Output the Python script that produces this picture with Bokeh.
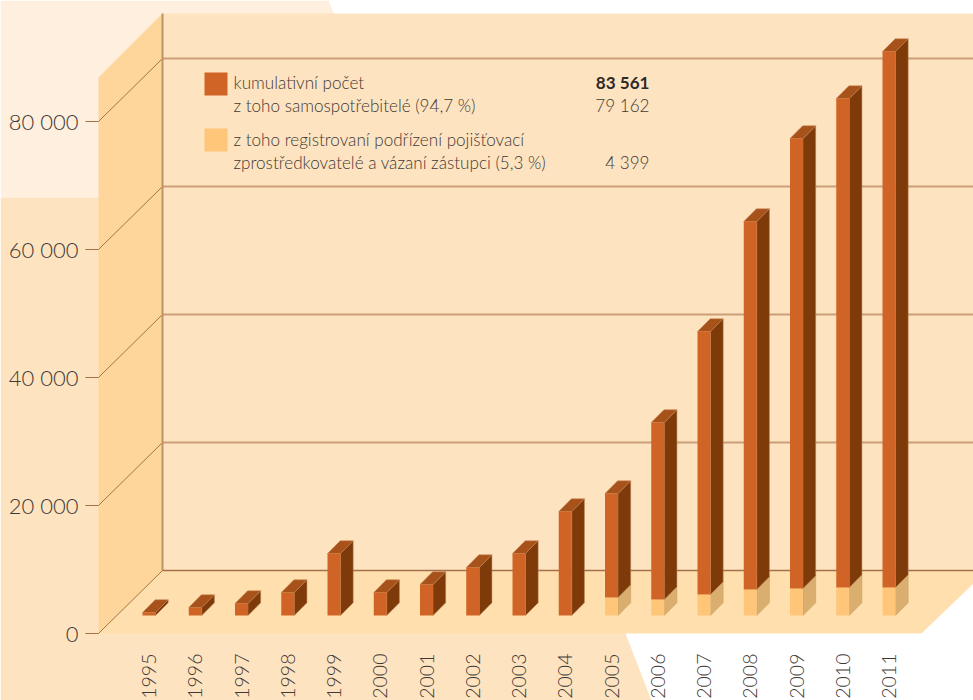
from math import pi
from bokeh.plotting import figure
from bokeh.models import LinearAxis, FixedTicker, Range1d
from bokeh.core.properties import value
from bokeh.embed import file_html
from bokeh.resources import INLINE

# ---- data (units on the left axis scale) ----
years = list(range(1995, 2012))
totals = [470, 1250, 1875, 3590, 9690, 3590, 4840, 7500, 9690, 16250, 19060,
          30160, 44375, 61560, 74530, 80780, 88125]
intermediaries = [0, 0, 0, 0, 0, 0, 0, 0, 0, 0, 2810, 2500, 3280, 4060, 4220, 4375, 4375]
y_ticks = [0, 20000, 40000, 60000, 80000]
y_labels = ["0", "20 000", "40 000", "60 000", "80 000"]
legend_lines = ["kumulativní počet", "z toho samospotřebitelé (94,7 %)",
                "z toho registrovaní podřízení pojišťovací",
                "zprostředkovatelé a vázaní zástupci (5,3 %)"]
legend_values = ["83 561", "79 162", "4 399"]

FONT = "Lato Light"
TEXT = "#3f3a36"
W, H = 973, 700
PX_PER_YEAR, PX_PER_UNIT = 46.25, 0.0064

# page pixel -> data helpers (used only for the decorated scenery)
def X(px): return 1995 + (px - 148.5) / PX_PER_YEAR
def Y(py): return (633 - py) / PX_PER_UNIT
DX = 1 / PX_PER_YEAR
DY = 1 / PX_PER_UNIT

p = figure(width=W, height=H, output_backend="svg", toolbar_location=None,
           x_range=Range1d(X(0), X(973)), y_range=Range1d(Y(700), Y(0)),
           x_axis_type=None, y_axis_type=None, min_border=0,
           outline_line_color=None, background_fill_color="white", border_fill_color="white")

def poly(pts, color):
    p.patch([X(a) for a, b in pts], [Y(b) for a, b in pts], fill_color=color, line_color=None)

def seg(x0, y0, x1, y1, color, w):
    p.line([X(x0), X(x1)], [Y(y0), Y(y1)], line_color=color, line_width=w)

# scenery
poly([(0, 0), (328, 0), (410, 197), (0, 197)], "#FEEFDF")
poly([(0, 197), (410, 197), (625, 633), (651, 700), (0, 700)], "#FEE3C0")
poly([(162, 13), (973, 13), (973, 570), (162, 570)], "#FEE3C0")
poly([(98, 77), (162, 13), (162, 570), (98, 633)], "#FED69C")
poly([(98, 633), (162, 570), (973, 570), (973, 583), (921, 633)], "#FFDFAE")

for t in y_ticks[1:]:
    py = 633 - t * PX_PER_UNIT
    seg(162, py - 63, 973, py - 63, "#C9A077", 2)
    seg(98, py, 162, py - 63, "#A37345", 1)
seg(162, 13, 162, 570, "#BC9468", 2)
seg(162, 570, 973, 570, "#A5714A", 1.5)
seg(98, 633, 162, 570, "#A37345", 1)

# bars (pseudo-3D): 18 px above the axis zero at the front edge
base = 18 * DY
bw, d, dv = 13 * DX, 12.7 * DX, 12.7 * DY
for yr, tot, low in zip(years, totals, intermediaries):
    x0 = yr - bw / 2
    x1 = x0 + bw
    top = base + tot
    mid = base + low
    if low > 0:
        p.patch([x1, x1 + d, x1 + d, x1], [base, base + dv, mid + dv, mid],
                fill_color="#DAAE6E", line_color="#C99E62", line_width=0.5)
        p.quad(left=x0, right=x1, bottom=base, top=mid, fill_color="#FFC67A", line_color=None)
    p.patch([x1, x1 + d, x1 + d, x1], [mid, mid + dv, top + dv, top],
            fill_color="#7F3A0A", line_color="#B98A5E", line_width=0.5)
    p.patch([x0, x0 + d, x1 + d, x1], [top, top + dv, top + dv, top],
            fill_color="#A8521B", line_color="#C08050", line_width=0.5)
    p.quad(left=x0, right=x1, bottom=mid, top=top, fill_color="#D06426", line_color=None)

# axes
ya = LinearAxis(ticker=FixedTicker(ticks=y_ticks),
                major_label_overrides=dict(zip(y_ticks, y_labels)),
                fixed_location=X(98), axis_line_color=None,
                major_tick_in=0, major_tick_out=13, major_tick_line_color="#A37345",
                major_tick_line_width=1, minor_tick_line_color=None,
                major_label_standoff=7, major_label_text_font=FONT,
                major_label_text_font_size="22px", major_label_text_color=TEXT)
p.add_layout(ya, "left")

xa = LinearAxis(ticker=FixedTicker(ticks=years),
                major_label_overrides={y: str(y) for y in years},
                fixed_location=Y(651), axis_line_color=None,
                major_tick_line_color=None, minor_tick_line_color=None,
                major_tick_in=0, major_tick_out=0,
                major_label_standoff=2, major_label_orientation=pi / 2,
                major_label_text_font=FONT, major_label_text_font_size="19.5px",
                major_label_text_color=TEXT)
p.add_layout(xa, "below")

# legend
p.quad(left=X(204), right=X(227), top=Y(72), bottom=Y(95), fill_color="#D06426", line_color=None)
p.quad(left=X(204), right=X(227), top=Y(128), bottom=Y(151), fill_color="#FFC67A", line_color=None)
p.text(x=[X(233)] * 4, y=[Y(82), Y(104.5), Y(139), Y(161.5)], text=legend_lines,
       text_font=value(FONT), text_font_size="17.1px", text_color=TEXT,
       text_align="left", text_baseline="alphabetic")
p.text(x=[X(649)], y=[Y(82)], text=legend_values[:1], text_font=value("Lato"),
       text_font_style="bold", text_font_size="17.1px", text_color="#2e2a26",
       text_align="right", text_baseline="alphabetic")
p.text(x=[X(649)] * 2, y=[Y(104.5), Y(161.5)], text=legend_values[1:], text_font=value(FONT),
       text_font_size="17.1px", text_color=TEXT, text_align="right", text_baseline="alphabetic")

open("out.html", "w").write(file_html(p, INLINE))
